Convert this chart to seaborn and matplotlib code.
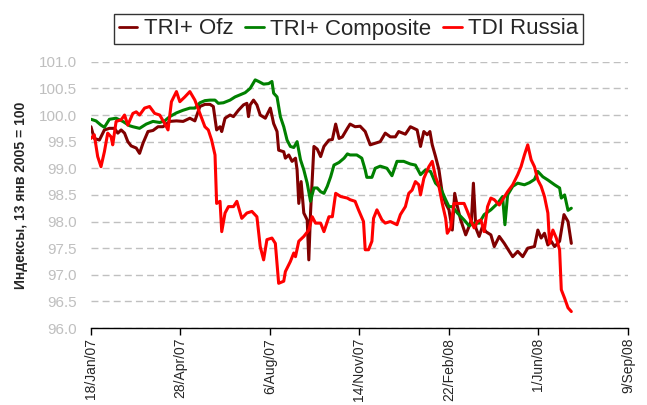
import pandas as pd
import seaborn as sns
import matplotlib.pyplot as plt

sns.set_style('white')
plt.rcParams['font.family'] = ['Liberation Sans', 'DejaVu Sans']

# Данные (дни от 18/Jan/07, значение индекса)
start = pd.Timestamp('2007-01-18')

ofz_days = [0, 3.7, 9.4, 15, 20.6, 26.2, 30, 33.7, 37.5, 41.2, 44.9, 50.6, 54.3, 58.1, 63.7, 69.3,
            74.9, 80.5, 88, 95.5, 103, 110.5, 116.1, 121.7, 127.3, 133, 136.7, 140.4, 144.2, 146.1,
            149.8, 155.4, 159.2, 164.8, 170.4, 174.2, 176, 177.9, 181.6, 185.4, 189.1, 194.8, 200.4,
            204.1, 207.9, 209.7, 215.4, 217.2, 221, 224.7, 228.5, 230.3, 232.2, 234.8, 237.8, 241.6,
            243.4, 245.3, 249.1, 252.8, 256.6, 260.3, 265.9, 269.7, 273.4, 277.2, 280.9, 286.5,
            289.5, 295.1, 300.7, 306.4, 312, 317.6, 323.2, 328.8, 334.5, 340.1, 343.8, 351.3, 356.9,
            360.7, 364.4, 368.2, 371.9, 375.7, 378.7, 381.3, 385, 388.8, 392.5, 396.3, 400, 403.7,
            406.4, 409.4, 413.1, 418.7, 422.5, 425.1, 427.3, 430, 433.7, 437.5, 441.2, 446.8, 450.6,
            456.2, 461.8, 467.4, 471.2, 476.8, 482.4, 488, 495.5, 499.3, 503, 506.7, 510.5, 514.2,
            518, 523.6, 528.5, 533, 536.7]
ofz_vals = [99.78, 99.56, 99.53, 99.72, 99.75, 99.75, 99.66, 99.72, 99.66, 99.50, 99.42, 99.38,
            99.28, 99.47, 99.69, 99.71, 99.78, 99.78, 99.88, 99.89, 99.88, 99.94, 99.89, 100.16,
            100.20, 100.20, 100.16, 99.72, 99.78, 99.69, 99.94, 100.00, 99.97, 100.09, 100.19,
            100.22, 99.97, 100.19, 100.28, 100.19, 100.00, 99.94, 100.13, 99.84, 99.69, 99.34,
            99.31, 99.19, 99.25, 99.13, 99.19, 98.97, 98.34, 98.75, 98.16, 98.03, 97.28, 98.16,
            99.41, 99.36, 99.22, 99.41, 99.53, 99.54, 99.83, 99.56, 99.59, 99.75,
            99.83, 99.78, 99.79, 99.69, 99.44, 99.47, 99.50, 99.66, 99.59, 99.59, 99.69, 99.64,
            99.78, 99.75, 99.72, 99.41, 99.69, 99.63, 99.69, 99.44, 99.22, 98.97, 98.53, 98.34,
            98.22, 97.84, 98.53, 98.28, 98.03, 97.75, 97.91, 98.03, 98.72, 97.88, 97.72, 97.91,
            97.81, 97.75, 97.53, 97.72, 97.59, 97.44, 97.34, 97.44, 97.34, 97.50, 97.53, 97.84,
            97.69, 97.78, 97.56, 97.63, 97.53, 97.63, 98.13, 98.00, 97.59]

comp_days = [0, 5.6, 11.2, 15, 20.6, 28, 35.6, 43, 46.8, 54.3, 61.8, 69.3, 76.8, 82.4, 88, 95.5,
             103, 110.5, 116.1, 121.7, 127.3, 133, 138.6, 142.3, 148, 155.4, 161, 166.7, 172.3,
             177.9, 183.5, 187.3, 192.9, 198.5, 202.2, 204.1, 207.9, 211.6, 215.4, 219.1, 222.8,
             226.6, 230.3, 234.1, 237.8, 241.6, 245.3, 249.1, 252.8, 256.6, 260.3, 264, 267.8,
             271.5, 277.2, 282.8, 286.5,
             289.5, 297, 302.6, 306.4, 308.2, 313.9, 317.6, 323.2, 330.7, 336.3, 341.9, 349.4,
             356.9, 362.5, 368.2, 373.8, 379.4, 385, 390.6, 396.3, 400, 403.7, 409.4, 416.9, 422.5,
             428.1, 433.7, 439.3, 446.8, 454.3, 459.9, 462.5, 465.5, 471.2, 476.8, 484.3, 489.9,
             495.5, 499.3, 504.9, 510.5, 518, 523.6, 525.5, 529.2, 533, 536.7]
comp_vals = [99.92, 99.89, 99.81, 99.77, 99.92, 99.94, 99.88, 99.80, 99.78, 99.75, 99.83, 99.88,
             99.86, 99.89, 99.97, 100.04, 100.09, 100.13, 100.13, 100.23, 100.27, 100.28, 100.28,
             100.22, 100.23, 100.28, 100.34, 100.38, 100.42, 100.50, 100.66, 100.63, 100.58,
             100.59, 100.63, 100.41, 100.34, 99.97, 99.78, 99.53, 99.41, 99.39, 99.50, 99.16,
             98.97, 98.72, 98.38, 98.63, 98.63, 98.56, 98.53, 98.66, 98.84, 99.06, 99.11, 99.19,
             99.27,
             99.25, 99.25, 99.19, 98.97, 98.83, 98.83, 99.00, 99.04, 99.00, 98.86, 99.13, 99.13,
             99.08, 99.06, 98.88, 98.97, 98.94, 98.72, 98.63, 98.41, 98.28, 98.28, 98.16, 98.03,
             97.92, 97.97, 97.97, 98.13, 98.22, 98.34, 98.47, 97.94, 98.50, 98.66, 98.72, 98.69,
             98.73, 98.79, 98.94, 98.84, 98.78, 98.69, 98.63, 98.44, 98.50, 98.21, 98.25]

tdi_days = [0, 3.7, 7.5, 11.2, 15, 18.7, 22.5, 24.3, 28.1, 33.7, 37.5, 41.2, 46.8, 50.6, 54.3,
            59.9, 65.5, 71.2, 76.8, 82.4, 86.1, 89.9, 95.5, 99.3, 104.9, 110.5, 116.1, 121.7,
            127.3, 131.1, 134.8, 138.6, 140.4, 144.2, 146.1, 149.8, 153.6, 159.2, 163, 168.5,
            174.2, 179.8, 185.4, 189.1, 192.9, 196.6, 202.2, 206, 209.7, 215.4, 217.2, 222.8,
            226.6, 228.5, 232.2, 237.8, 243.4, 247.2, 250.9, 256.6, 260.3, 265.9, 269.7, 273.4,
            279, 286.5,
            289.5, 295.1, 298.9, 304.5, 306.4, 310.1, 313.9, 315.7, 319.5, 325.1, 328.8, 334.5,
            338.2, 341.9, 345.7, 351.3, 355.1, 358.8, 362.5, 366.3, 368.2, 371.9, 377.5, 381.3,
            385, 388.8, 392.5, 396.3, 398.1, 401.9, 405.6, 409.4, 416.9, 420.6, 424.3, 428.1,
            431.8, 435.6, 439.3, 443.1, 446.8, 450.6, 456.2, 459.9, 465.5, 471.2, 476.8, 480.5,
            484.3, 488, 491.8, 495.5, 499.3, 503, 506.7, 510.5, 512.4, 516.1, 519.9, 523.6, 525.5,
            529.2, 533, 536.7]
tdi_vals = [99.56, 99.63, 99.22, 99.03, 99.31, 99.66, 99.59, 99.44, 99.88, 99.91, 100.00, 99.81,
            100.03, 100.06, 100.00, 100.13, 100.16, 100.03, 100.00, 99.84, 99.72, 100.25, 100.44,
            100.25, 100.34, 100.44, 100.28, 100.03, 99.78, 99.72, 99.53, 99.25, 98.34, 98.38,
            97.81, 98.16, 98.28, 98.28, 98.38, 98.06, 98.16, 98.19, 98.09, 97.53, 97.28, 97.66,
            97.69, 97.59, 96.84, 96.88, 97.06, 97.25, 97.41, 97.34, 97.63, 97.72, 97.84, 98.09,
            97.97, 97.97, 97.81, 98.09, 98.09, 98.53, 98.47, 98.44,
            98.41, 98.38, 98.22, 98.00, 97.47, 97.47, 97.63, 98.06, 98.22, 98.03, 97.97, 98.00,
            97.97, 97.94, 98.13, 98.28, 98.53, 98.59, 98.75, 98.69, 98.50, 98.81, 99.03, 99.13,
            98.84, 98.66, 98.34, 98.06, 97.78, 97.88, 98.34, 98.34, 98.34, 98.19, 98.03, 97.88,
            98.00, 98.03, 97.81, 98.28, 98.44, 98.41, 98.31, 98.41, 98.56, 98.69, 98.88, 99.03,
            99.25, 99.44, 99.16, 99.03, 98.78, 98.66, 98.47, 98.16, 97.59, 97.84, 97.69, 97.47,
            96.72, 96.56, 96.38, 96.31]

series_names = ['TRI+ Ofz', 'TRI+ Composite', 'TDI Russia']
colors = ['#800000', '#008000', '#ff0000']

tick_dates = ['2007-01-18', '2007-04-28', '2007-08-06', '2007-11-14', '2008-02-22', '2008-06-01', '2008-09-09']
tick_labels = ['18/Jan/07', '28/Apr/07', '6/Aug/07', '14/Nov/07', '22/Feb/08', '1/Jun/08', '9/Sep/08']
y_ticks = [96.0, 96.5, 97.0, 97.5, 98.0, 98.5, 99.0, 99.5, 100.0, 100.5, 101.0]

frames = []
for name, d, v in zip(series_names, [ofz_days, comp_days, tdi_days], [ofz_vals, comp_vals, tdi_vals]):
    frames.append(pd.DataFrame({
        'date': start + pd.to_timedelta(d, unit='D'),
        'value': v,
        'series': name,
    }))
df = pd.concat(frames, ignore_index=True)

fig = plt.figure(figsize=(6.47, 4.05), dpi=100)
ax = fig.add_axes([0.1406, 0.190, 0.830, 0.6575])

sns.lineplot(data=df, x='date', y='value', hue='series', hue_order=series_names,
             palette=colors, estimator=None, linewidth=2.2, ax=ax, legend=False)

ax.set_xlim(pd.Timestamp(tick_dates[0]), pd.Timestamp(tick_dates[-1]))
ax.set_ylim(96.0, 101.0)
ax.set_xticks(pd.to_datetime(tick_dates))
ax.set_xticklabels(tick_labels, rotation=90, fontsize=10)
ax.set_yticks(y_ticks)
ax.set_yticklabels([f'{t:.1f}' for t in y_ticks], fontsize=11, color='#bfbfbf')

ax.yaxis.grid(True, linestyle=(0, (5, 3)), color='#c0c0c0', linewidth=1)
ax.xaxis.grid(False)
for s in ['left', 'top', 'right']:
    ax.spines[s].set_visible(False)
ax.spines['bottom'].set_color('black')
ax.spines['bottom'].set_linewidth(1)
ax.tick_params(axis='x', direction='out', length=5, width=1, color='black', bottom=True, pad=2)
ax.tick_params(axis='y', length=0, pad=10)

ax.set_xlabel('')
ax.set_ylabel('Индексы, 13 янв 2005 = 100', fontsize=10, fontweight='bold')
ax.yaxis.set_label_coords(-0.118, 0.5)

handles = [plt.Line2D([], [], color=c, linewidth=2) for c in colors]
leg = fig.legend(handles, series_names, loc='center', bbox_to_anchor=(348.5 / 647, 1 - 29 / 405),
                 ncol=3, fontsize=16, frameon=True, fancybox=False, edgecolor='black',
                 handlelength=0.85, handletextpad=0.3, columnspacing=0.5, borderpad=0.2,
                 borderaxespad=0)
leg.get_frame().set_linewidth(1)

plt.savefig('out.png', dpi=100)
